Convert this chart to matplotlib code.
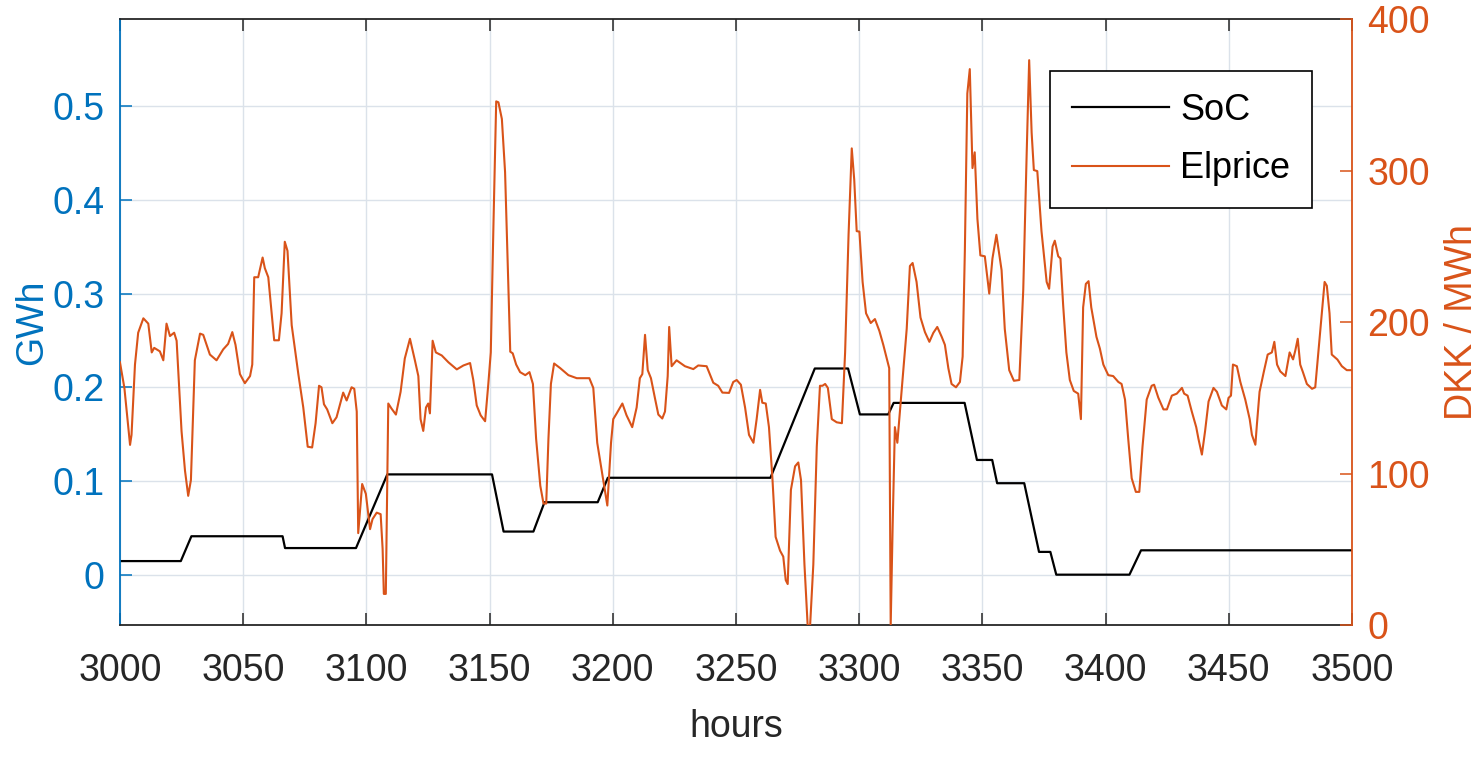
import matplotlib
matplotlib.use("Agg")
import matplotlib.pyplot as plt

# SoC (GWh)
soc_hours = [3000, 3024.7, 3029, 3066, 3067, 3095.8, 3108.5, 3151, 3155.7, 3167.8,
             3172.3, 3193.9, 3198, 3264, 3282, 3295.5, 3300.3, 3311.8, 3314, 3342.8,
             3347.8, 3354, 3356, 3367, 3373, 3377.6, 3380, 3409.7, 3414.4, 3500]
soc_vals = [0.0145, 0.0145, 0.041, 0.041, 0.0284, 0.0284, 0.107, 0.107, 0.046, 0.046,
            0.0773, 0.0773, 0.1034, 0.1034, 0.22, 0.22, 0.171, 0.171, 0.1833, 0.1833,
            0.1224, 0.1224, 0.0976, 0.0976, 0.0243, 0.0243, 0.0, 0.0, 0.026, 0.026]

# electricity price (DKK/MWh)
price_hours = [
    3000, 3001.8, 3004.1, 3004.7, 3006.1, 3007.4, 3009.5, 3011.5, 3012.9, 3013.9,
    3016.2, 3017.6, 3018.9, 3020.3, 3022, 3023, 3025, 3026.4, 3027.7, 3028.8,
    3030.4, 3032.5, 3033.8, 3036.5, 3039.2, 3041.9, 3043.9, 3045.6, 3046.9, 3048.7,
    3050.7, 3052.8, 3053.7, 3054.5, 3056.1, 3057.9, 3058.8, 3060.2, 3062.6, 3064.5,
    3065.6, 3066.9, 3068, 3069.7, 3072.4, 3074.4, 3076.2, 3078, 3079.4, 3080.8,
    3081.8, 3082.8, 3084.1, 3086.2, 3087.9, 3090.6, 3092, 3094, 3095.1, 3096.1,
    3096.7, 3098.3, 3099.8, 3101.5, 3102.5, 3104.2, 3105.8, 3106.6, 3107.1, 3107.9,
    3108.9, 3110.2, 3112, 3113.9, 3115.6, 3117.7, 3119.7, 3121.1, 3122, 3123.1,
    3124.2, 3125.1, 3125.8, 3126.9, 3128.2, 3130.6, 3133.3, 3136.7, 3139.4, 3142.1,
    3143.4, 3144.8, 3146.4, 3148.2, 3149.5, 3150.5, 3151.6, 3152.7, 3153.6, 3155,
    3156.3, 3157.7, 3158.4, 3159.4, 3160.8, 3162.4, 3164.5, 3166.2, 3167.6, 3168.9,
    3170.6, 3171.9, 3173, 3173.9, 3174.9, 3176.2, 3178.7, 3182, 3185.4, 3188.1,
    3190.5, 3192.1, 3193.7, 3195.9, 3197.8, 3199.3, 3200.2, 3201.6, 3203.9, 3205.6,
    3207.9, 3209.7, 3211, 3212, 3213.1, 3214.2, 3215.5, 3217.1, 3218.5, 3220.1,
    3221.2, 3222.3, 3222.9, 3223.9, 3225.9, 3229.3, 3232.7, 3234.7, 3238.1, 3240.8,
    3242.8, 3244.5, 3247.2, 3248.9, 3250.3, 3252, 3253.7, 3255.3, 3257.1, 3258.4,
    3259.8, 3260.7, 3262.1, 3263.4, 3264.8, 3266.1, 3267.9, 3269.2, 3270.2, 3271,
    3272.3, 3274, 3275.3, 3276.4, 3277.8, 3279.1, 3280.1, 3281.4, 3282.8, 3284.1,
    3285.1, 3286.2, 3287.3, 3288.9, 3290.9, 3293, 3294.3, 3295.7, 3297, 3298,
    3299, 3300.1, 3301.4, 3302.8, 3304.7, 3306.4, 3308.2, 3309.8, 3311.4, 3312.2,
    3312.8, 3313.6, 3314.5, 3315.5, 3317.2, 3319.3, 3320.6, 3321.7, 3323.3, 3324.9,
    3326.7, 3328.5, 3330.1, 3331.7, 3333.5, 3334.8, 3336.2, 3337.5, 3339.3, 3340.9,
    3342, 3342.9, 3343.9, 3344.9, 3346, 3346.9, 3348, 3349.2, 3351, 3352.8,
    3354.1, 3355.7, 3357.8, 3359.1, 3360.9, 3362.8, 3365, 3366.6, 3368, 3369,
    3370, 3370.9, 3372.3, 3374, 3376.1, 3377.1, 3378.5, 3379.4, 3380.8, 3381.7,
    3382.8, 3384.1, 3385.5, 3387.1, 3388.9, 3390, 3390.9, 3392, 3393.1, 3394.2,
    3396.3, 3397.7, 3399.1, 3401.1, 3403.1, 3405.2, 3406.5, 3407.9, 3409.2, 3410.6,
    3412.3, 3413.7, 3415, 3416.7, 3418.7, 3419.7, 3421.4, 3423.5, 3424.9, 3426.9,
    3428.9, 3431, 3431.9, 3433.3, 3435, 3436.8, 3437.7, 3439.1, 3440.4, 3441.8,
    3443.8, 3445.2, 3447.2, 3449, 3449.9, 3450.9, 3451.7, 3453.3, 3454.7, 3456.7,
    3458.5, 3459.4, 3460.8, 3461.4, 3462.5, 3464.2, 3465.8, 3467.5, 3468.5, 3469.6,
    3470.9, 3473, 3474.7, 3476.1, 3477, 3478, 3479, 3480.1, 3481.7, 3483.8,
    3485.1, 3486.5, 3487.8, 3488.9, 3489.8, 3490.9, 3491.8, 3494.1, 3495.9, 3497.9,
    3500]
price_vals = [
    173.5, 156.6, 119, 125.6, 172, 193, 202.5, 199, 180, 183,
    180.7, 174.8, 199, 190.8, 193, 187.7, 128, 102, 85.4, 95.8,
    174.8, 192.4, 191.6, 178.6, 174.8, 182, 185.6, 193.4, 185, 165.7,
    159.7, 164.4, 172, 229.6, 229.6, 242.6, 235.6, 229.6, 188, 188,
    205.8, 253, 247, 198, 165.7, 143.7, 117.8, 117.3, 133.3, 158,
    157, 145.8, 142.4, 133.3, 137.2, 153.5, 148.3, 157, 156, 141,
    60.8, 93.2, 86.7, 63.4, 70, 74.3, 73.3, 50.5, 20.7, 20.7,
    146.3, 143, 139, 154, 176, 189, 174.8, 164.4, 136, 128.2,
    143.7, 146.3, 139.8, 187.7, 180, 178, 173.5, 168.8, 171.4, 173,
    161.8, 145, 138.5, 134.6, 159.2, 180, 265.4, 345.6, 345, 334,
    299, 221.4, 180.5, 179.4, 172, 167, 165, 167, 159.2, 123,
    92, 80.3, 80.3, 123, 159.2, 172.7, 169.6, 165, 163, 163,
    163, 156.6, 120.4, 98.4, 79, 120.4, 136, 139.8, 146.3, 138.5,
    130.7, 143.7, 163, 165.7, 191.6, 168.3, 163, 150, 139, 136.4,
    141, 164.4, 196.8, 170.9, 174.8, 170.9, 169, 171.4, 170.9, 160,
    158, 153.5, 153.3, 160.5, 161.8, 158.7, 143.7, 125.6, 120.4, 136,
    155.3, 146.8, 146.3, 130.7, 97, 58.3, 49.2, 45.3, 29.8, 27.2,
    89.3, 104.9, 107.4, 95.8, 40.1, 0, 0, 40.1, 117.8, 158,
    158, 159.2, 156.6, 136, 133.9, 133.3, 180, 257.6, 314.6, 294,
    260, 259.7, 226.5, 205.8, 199.4, 202, 194.2, 185, 174.8, 169.6,
    0, 66, 130.7, 120.4, 154, 195.5, 237, 239, 226.5, 203,
    193.4, 187, 192.9, 196.8, 190.3, 185, 169.6, 159.2, 157, 160.5,
    177.3, 247.2, 350.8, 366.9, 301.6, 312, 268, 244, 243.4, 218.8,
    242, 257.6, 234.3, 195.5, 168.3, 161.3, 161.8, 221.4, 312, 372.8,
    325, 300.3, 299.6, 260, 226.5, 222, 249.8, 253.7, 243.4, 242,
    211, 180, 161.8, 154.6, 152.8, 136, 209.7, 225.2, 227, 209.7,
    190.3, 182.5, 172, 165, 164.4, 160.5, 159.2, 148.9, 123, 97,
    88, 88, 117.8, 148.9, 158, 158.7, 150.2, 142.4, 142.4, 151.5,
    152.8, 156.6, 152.8, 151.5, 141, 130.7, 123, 112.6, 128.2, 147.6,
    156.6, 154, 145, 142.4, 150, 151.5, 172, 170.9, 160.5, 148.9,
    136, 125.6, 119.1, 132, 154, 167, 178.6, 180, 187, 172,
    167.5, 164.4, 180, 175.4, 181.2, 189, 172, 167, 159.2, 156,
    157, 182.5, 205.8, 226.5, 224, 205.8, 178.6, 175.3, 170.9, 168.3,
    168.3]

x_ticks = [3000, 3050, 3100, 3150, 3200, 3250, 3300, 3350, 3400, 3450, 3500]
left_ticks = [0, 0.1, 0.2, 0.3, 0.4, 0.5]
left_labels = ["0", "0.1", "0.2", "0.3", "0.4", "0.5"]
right_ticks = [0, 100, 200, 300, 400]

BLUE = "#0072BD"
ORANGE = "#D95319"
DARK = "#262626"

plt.rcParams['font.family'] = ['Liberation Sans', 'DejaVu Sans']

fig = plt.figure(figsize=(14.79, 7.57), dpi=100)
ax = fig.add_axes([0.0811, 0.174, 0.833, 0.801])
ax2 = ax.twinx()

l1, = ax.plot(soc_hours, soc_vals, color="black", lw=1.6, label="SoC")
l2, = ax2.plot(price_hours, price_vals, color=ORANGE, lw=1.5, label="Elprice")

ax.set_xlim(3000, 3500)
ax.set_ylim(-0.054, 0.593)
ax2.set_ylim(0, 400)

ax.set_xticks(x_ticks)
ax.set_yticks(left_ticks)
ax.set_yticklabels(left_labels)
ax2.set_yticks(right_ticks)

ax.grid(True, color="#dbe2ea", lw=1.0)
ax.set_axisbelow(True)

fs = 27
ax.tick_params(axis="x", direction="in", length=8.5, width=1.1, top=True,
               colors=DARK, labelsize=fs, pad=20)
ax.tick_params(axis="y", direction="in", length=8.5, width=1.1,
               colors=BLUE, labelsize=fs, pad=11)
ax2.tick_params(axis="y", direction="in", length=8.5, width=1.1,
                colors=ORANGE, labelsize=fs, pad=11)

for s in ["top", "bottom"]:
    ax.spines[s].set_color(DARK)
    ax.spines[s].set_linewidth(1.3)
ax.spines["left"].set_color(BLUE)
ax.spines["left"].set_linewidth(1.3)
ax.spines["right"].set_visible(False)
for s in ["top", "bottom", "left"]:
    ax2.spines[s].set_visible(False)
ax2.spines["right"].set_color(ORANGE)
ax2.spines["right"].set_linewidth(1.3)

ax.set_xlabel("hours", fontsize=fs, color=DARK, labelpad=14)
ax.set_ylabel("GWh", fontsize=fs, color=BLUE, labelpad=2)
ax2.set_ylabel("DKK / MWh", fontsize=fs, color=ORANGE, labelpad=10)

leg = ax2.legend(handles=[l1, l2], loc="upper right", bbox_to_anchor=(0.9675, 0.914),
                 fontsize=26, frameon=True, fancybox=False, framealpha=1,
                 edgecolor="black", handlelength=2.7, handletextpad=0.3,
                 borderpad=0.6, labelspacing=0.65, borderaxespad=0)
leg.get_frame().set_linewidth(1.2)

fig.savefig("out.png", dpi=100)
